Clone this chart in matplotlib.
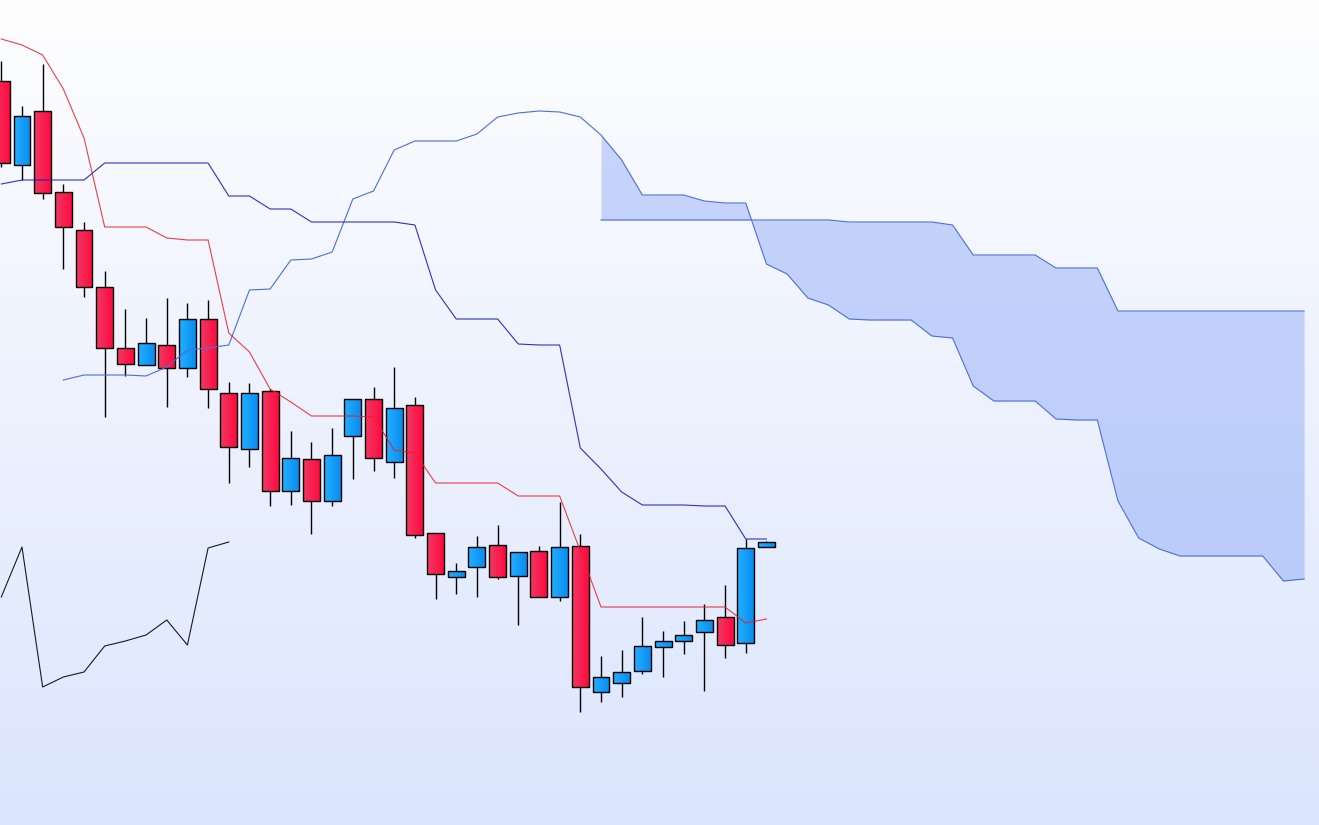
import numpy as np
import matplotlib
matplotlib.use("Agg")
import matplotlib.pyplot as plt
from matplotlib.colors import LinearSegmentedColormap
from matplotlib.patches import Rectangle

# candles (price units)
opens  = [744, 660, 714, 633, 595, 538, 477, 460, 480, 457, 506, 432, 376, 434, 334, 366, 324, 389, 426,
          363, 420, 292, 248, 258, 280, 249, 274, 228, 279, 133, 142, 154, 178, 184, 193, 208, 182, 278]
highs  = [764, 719, 761, 641, 603, 554, 516, 507, 527, 522, 525, 443, 442, 436, 394, 383, 397, 426, 438,
          458, 428, 292, 262, 289, 300, 273, 279, 323, 291, 169, 175, 208, 194, 204, 221, 240, 286, 284]
lows   = [658, 645, 626, 556, 528, 408, 449, 460, 418, 448, 417, 342, 358, 319, 320, 291, 319, 346, 354,
          347, 287, 226, 231, 228, 246, 200, 228, 224, 113, 123, 128, 151, 148, 171, 134, 167, 172, 278]
closes = [662, 709, 632, 598, 538, 477, 461, 482, 457, 506, 436, 378, 432, 334, 367, 324, 370, 426, 367,
          417, 290, 251, 254, 278, 248, 273, 228, 278, 138, 148, 153, 179, 184, 190, 205, 180, 277, 283]

tenkan = [786, 780, 770, 736, 687, 598, 598, 598, 587, 585, 585, 492, 473, 436, 423, 409, 409, 409, 408,
          375, 372, 342, 342, 342, 342, 329, 329, 329, 274, 218, 218, 218, 218, 218, 218, 218, 202, 206]
kijun = [641, 645, 645, 645, 645, 662, 662, 662, 662, 662, 662, 629, 629, 616, 616, 603, 603, 603, 603,
         603, 600, 535, 506, 506, 506, 481, 480, 480, 377, 356, 333, 320, 320, 320, 319, 319, 286, 286]

# senkou span A starts at bar 3, span B at bar 29 (already shifted 26 forward)
span_a_start = 3
span_a = [445, 450, 450, 450, 449, 458, 475, 477, 480, 535, 536, 565, 566, 573, 626, 634, 675, 684, 684,
          684, 691, 708, 712, 714, 713, 708, 690, 665, 630, 630, 630, 624, 622, 622, 561, 551, 527, 520,
          506, 505, 505, 505, 489, 487, 439, 424, 424, 424, 406, 405, 405, 324, 287, 276, 269, 269, 269,
          269, 269, 244, 246]
span_b_start = 29
span_b = [605, 605, 605, 605, 605, 605, 605, 605, 605, 605, 605, 605, 603, 603, 603, 603, 603, 600,
          570, 570, 570, 570, 557, 557, 557, 514, 514, 514, 514, 514, 514, 514, 514, 514, 514]
shift = 26

fig = plt.figure(figsize=(13.19, 8.25), dpi=100)
ax = fig.add_axes([0, 0, 1, 1])
ax.set_axis_off()

xlim = (-0.063, 63.72)
ylim = (0, 825)

# background gradient
bg = LinearSegmentedColormap.from_list("bg", ["#dbe5fd", "#fefeff"])
ax.imshow(np.linspace(0, 1, 256).reshape(-1, 1), cmap=bg, aspect="auto", origin="lower",
          extent=(xlim[0], xlim[1], ylim[0], ylim[1]), zorder=0)

# cloud
xa = np.arange(span_a_start, span_a_start + len(span_a))
xb = np.arange(span_b_start, span_b_start + len(span_b))
a_overlap = np.array(span_a[span_b_start - span_a_start:])
ax.fill_between(xb, a_overlap, span_b, color="#6c8ff5", alpha=0.35, lw=0, zorder=1)
ax.plot(xa, span_a, color="#4a6fd8", lw=0.8, zorder=5)
ax.plot(xb, span_b, color="#4a6fd8", lw=0.8, zorder=5)

# candles
red_cm = LinearSegmentedColormap.from_list("r", ["#f03a64", "#ff0a40"])
blue_cm = LinearSegmentedColormap.from_list("b", ["#22b0ff", "#0a8cf0"])
grad = np.linspace(0, 1, 32).reshape(1, -1)
w = 0.82
for i in range(len(opens)):
    o, h, l, c = opens[i], highs[i], lows[i], closes[i]
    ax.vlines(i, l, h, color="black", lw=1.0, zorder=2)
    lo, hi = min(o, c), max(o, c)
    cm = blue_cm if c >= o else red_cm
    ax.imshow(grad, cmap=cm, aspect="auto", extent=(i - w / 2, i + w / 2, lo, hi), zorder=3)
    ax.add_patch(Rectangle((i - w / 2, lo), w, hi - lo, fill=False, ec="black", lw=1.0, zorder=4))

x = np.arange(len(opens))
ax.plot(x, kijun, color="#1c1cb8", lw=0.8, alpha=0.9, zorder=6)
ax.plot(x, tenkan, color="#e82028", lw=0.8, alpha=0.85, zorder=6)
# chikou span: closes shifted back
ax.plot(x[shift:] - shift, closes[shift:], color="#1a1a1a", lw=0.8, zorder=6)

ax.set_xlim(*xlim)
ax.set_ylim(*ylim)
fig.savefig("out.png", dpi=100)
